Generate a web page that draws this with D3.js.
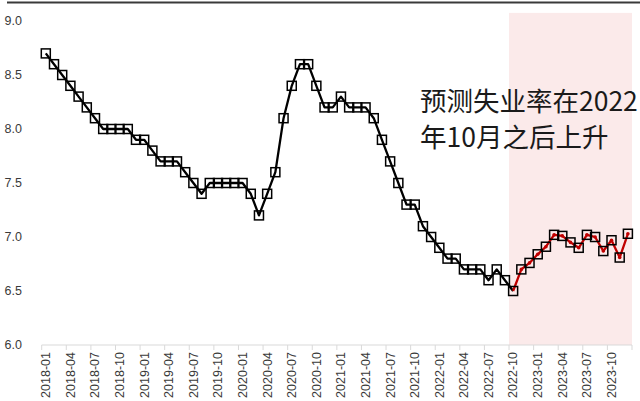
<!DOCTYPE html>
<html>
<head>
<meta charset="utf-8">
<script src="https://cdn.jsdelivr.net/npm/d3@7"></script>
<style>
  html, body { margin: 0; padding: 0; background: #fff; }
  svg { display: block; }
</style>
</head>
<body>
<svg id="chart" width="640" height="401"></svg>
<script>
// Monthly unemployment rate (%), 2018-01 .. 2022-10, observed
const actual = [
  8.7, 8.6, 8.5, 8.4, 8.3, 8.2, 8.1, 8.0, 8.0, 8.0, 8.0, 7.9,   // 2018
  7.9, 7.8, 7.7, 7.7, 7.7, 7.6, 7.5, 7.4, 7.5, 7.5, 7.5, 7.5,   // 2019
  7.5, 7.4, 7.2, 7.4, 7.6, 8.1, 8.4, 8.6, 8.6, 8.4, 8.2, 8.2,   // 2020
  8.3, 8.2, 8.2, 8.2, 8.1, 7.9, 7.7, 7.5, 7.3, 7.3, 7.1, 7.0,   // 2021
  6.9, 6.8, 6.8, 6.7, 6.7, 6.7, 6.6, 6.7, 6.6, 6.5              // 2022-01 .. 2022-10
];
// Forecast path, 2022-10 .. 2023-12
const forecast = [
  6.5, 6.70, 6.76,                                              // 2022-10 .. 2022-12
  6.84, 6.91, 7.02, 7.01, 6.95, 6.90, 7.02, 7.00, 6.87, 6.97, 6.81, 7.03  // 2023
];
const forecastStart = "2022-10";
const yTicks = [6.0, 6.5, 7.0, 7.5, 8.0, 8.5, 9.0];
const noteLines = ["预测失业率在2022", "年10月之后上升"];

// Month categories 2018-01 .. 2023-12
const months = d3.utcMonths(new Date(Date.UTC(2018, 0, 1)), new Date(Date.UTC(2024, 0, 1)))
  .map(d3.utcFormat("%Y-%m"));
const tickLabels = months.filter((m, i) => i % 3 === 0);

const svg = d3.select("#chart");
const W = 640;

const x = d3.scaleBand().domain(months).range([41.7, 632]).paddingInner(0).paddingOuter(0);
const y = d3.scaleLinear().domain([6, 9]).range([345, 21]);
const cx = m => x(m) + x.bandwidth() / 2;

// top rule
svg.append("line")
  .attr("x1", 7).attr("x2", W).attr("y1", 2.5).attr("y2", 2.5)
  .attr("stroke", "#3a3a3a").attr("stroke-width", 2);

// forecast shading
svg.append("rect")
  .attr("x", x(forecastStart))
  .attr("y", y(9.075))
  .attr("width", x(months[months.length - 1]) + x.bandwidth() - x(forecastStart))
  .attr("height", y(6) - y(9.075))
  .attr("fill", "#fbeaea");

// y axis labels
svg.append("g").selectAll("text").data(yTicks).join("text")
  .attr("x", 22).attr("y", d => y(d))
  .attr("dy", "0.35em")
  .attr("text-anchor", "end")
  .attr("font-family", "Liberation Sans, Arial, sans-serif")
  .attr("font-size", 12.5)
  .attr("fill", "#3a3a3a")
  .text(d => d.toFixed(1));

// x axis
const xAxis = svg.append("g");
xAxis.append("line")
  .attr("x1", x.range()[0]).attr("x2", x.range()[1])
  .attr("y1", y(6)).attr("y2", y(6))
  .attr("stroke", "#d9d9d9").attr("stroke-width", 1);
const boundaries = months.filter((m, i) => i % 3 === 0).map(m => x(m)).concat([x.range()[1]]);
xAxis.selectAll("line.tick").data(boundaries).join("line")
  .attr("class", "tick")
  .attr("x1", d => d).attr("x2", d => d)
  .attr("y1", y(6)).attr("y2", y(6) + 5)
  .attr("stroke", "#d9d9d9").attr("stroke-width", 1);
xAxis.selectAll("text").data(tickLabels).join("text")
  .attr("transform", d => `translate(${cx(d)},352) rotate(-90)`)
  .attr("dy", "0.35em")
  .attr("text-anchor", "end")
  .attr("font-family", "Liberation Sans, Arial, sans-serif")
  .attr("font-size", 12.5)
  .attr("fill", "#3a3a3a")
  .text(d => d);

// series
const actualPts = actual.map((v, i) => ({ m: months[i], v }));
const f0 = months.indexOf(forecastStart);
const forecastPts = forecast.map((v, i) => ({ m: months[f0 + i], v }));

const line = d3.line().x(d => cx(d.m)).y(d => y(d.v));

svg.append("path").datum(actualPts)
  .attr("d", line).attr("fill", "none")
  .attr("stroke", "#000").attr("stroke-width", 2.3).attr("stroke-linejoin", "round");
svg.append("path").datum(forecastPts)
  .attr("d", line).attr("fill", "none")
  .attr("stroke", "#c00000").attr("stroke-width", 2.3).attr("stroke-linejoin", "round");

const S = 9;
const allPts = actualPts.concat(forecastPts.slice(1));
svg.append("g").selectAll("rect").data(allPts).join("rect")
  .attr("x", d => cx(d.m) - S / 2).attr("y", d => y(d.v) - S / 2)
  .attr("width", S).attr("height", S)
  .attr("fill", "none").attr("stroke", "#000").attr("stroke-width", 1.5);
svg.append("g").selectAll("circle").data(forecastPts.slice(1)).join("circle")
  .attr("cx", d => cx(d.m)).attr("cy", d => y(d.v)).attr("r", 1.8)
  .attr("fill", "#c00000");

// annotation
svg.append("g").selectAll("text").data(noteLines).join("text")
  .attr("x", 420).attr("y", (d, i) => 111 + i * 36)
  .attr("font-family", "Noto Sans CJK SC, sans-serif")
  .attr("font-size", 26.5)
  .attr("fill", "#1a1a1a")
  .text(d => d);
</script>
</body>
</html>
